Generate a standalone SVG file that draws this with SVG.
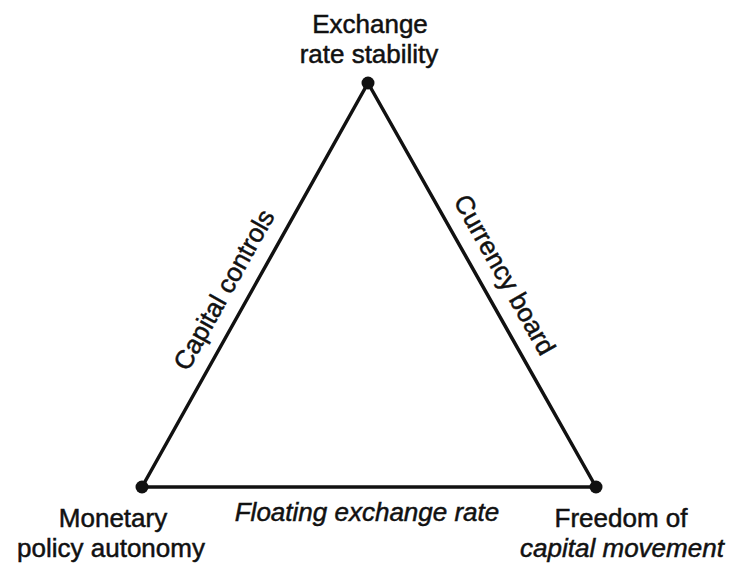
<svg xmlns="http://www.w3.org/2000/svg" width="741" height="569" viewBox="0 0 741 569">
<style>
.t{font-family:"Liberation Sans",Arial,sans-serif;font-size:26px;fill:#111;stroke:#111;stroke-width:0.5;text-anchor:middle}
.i{font-style:italic}
.e{stroke:#111;stroke-width:3.5;fill:none;stroke-linecap:round}
.v{fill:#111}
</style>
<rect width="741" height="569" fill="#fff"/>
<g id="connectors">
<line class="e" x1="368" y1="83" x2="142" y2="487"/>
<line class="e" x1="368" y1="83" x2="596" y2="487"/>
<line class="e" x1="142" y1="487" x2="596" y2="487"/>
<text class="t" transform="translate(231.6,294) rotate(-60.8)">Capital controls</text>
<text class="t" transform="translate(496.9,279.1) rotate(60.6)">Currency board</text>
<text class="t i" x="367" y="521">Floating exchange rate</text>
</g>
<g id="exchange-rate-stability">
<circle class="v" cx="368" cy="83" r="6.5"/>
<text class="t" x="370" y="33">Exchange</text>
<text class="t" x="369" y="63">rate stability</text>
</g>
<g id="monetary-policy-autonomy">
<circle class="v" cx="142" cy="487" r="6.5"/>
<text class="t" x="113" y="527">Monetary</text>
<text class="t" x="111" y="557">policy autonomy</text>
</g>
<g id="freedom-of-capital-movement">
<circle class="v" cx="596" cy="487" r="6.5"/>
<text class="t" x="621" y="527">Freedom of</text>
<text class="t i" x="622" y="557">capital movement</text>
</g>
</svg>
